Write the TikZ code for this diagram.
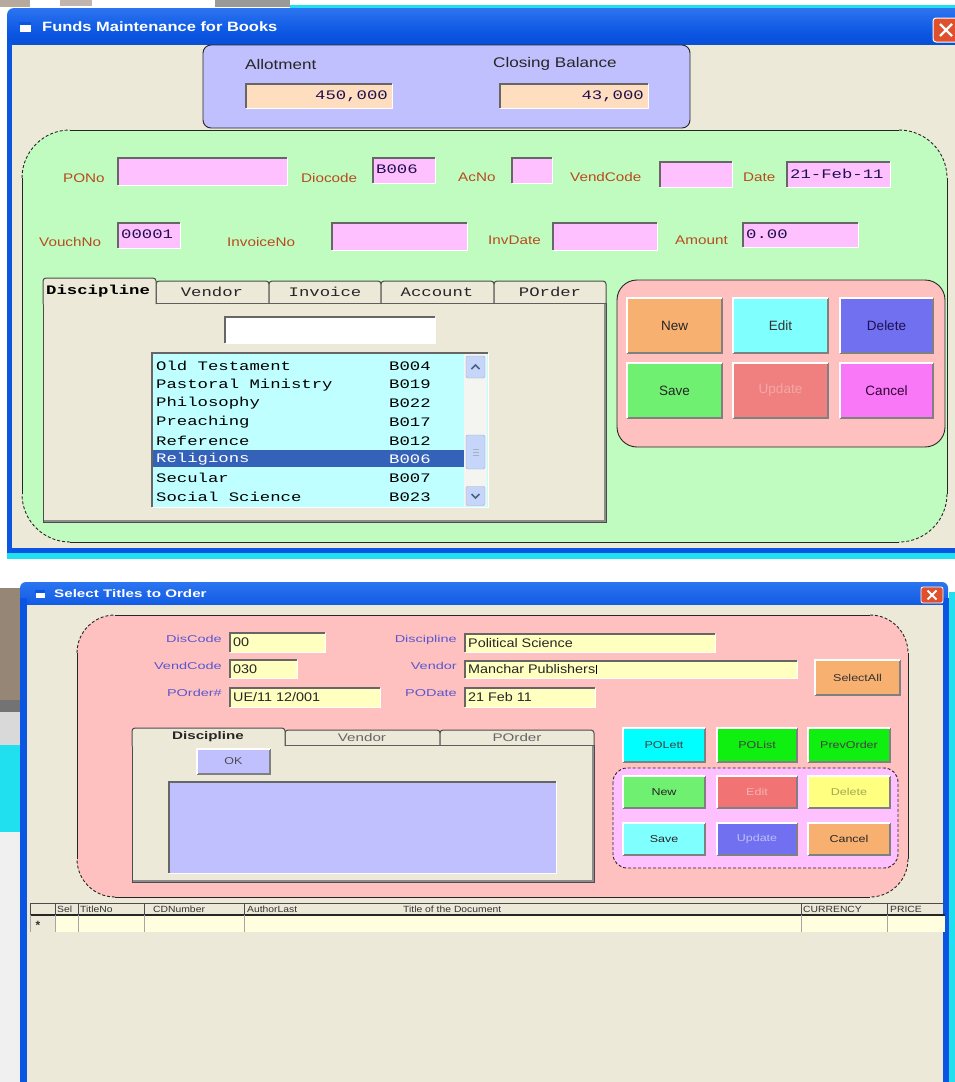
\documentclass[tikz,border=0pt]{standalone}
\usepackage{fontspec}
\setmainfont{Liberation Sans}
\newfontfamily\uisans{Liberation Sans}
\newfontfamily\uiw[FakeStretch=1.22]{Liberation Sans}
\newfontfamily\uiv[FakeStretch=1.15]{Liberation Sans}
\newfontfamily\uib[FakeStretch=1.25]{Liberation Sans}
\newfontfamily\uix[FakeStretch=1.45]{Liberation Sans}
\newfontfamily\uiq[FakeStretch=1.38]{Liberation Sans}
\newfontfamily\uimono[FakeStretch=1.33]{Liberation Mono}
\usetikzlibrary{calc}
\definecolor{winbg}{HTML}{ECE9D8}
\definecolor{tbtop}{HTML}{2C74F0}
\definecolor{tbmid}{HTML}{0A55E2}
\definecolor{tbbot}{HTML}{0848C8}
\definecolor{scrcyan}{HTML}{20E0F0}
\definecolor{lavpanel}{HTML}{C0C0FF}
\definecolor{peach}{HTML}{FFDEC0}
\definecolor{greenpanel}{HTML}{C0FCC0}
\definecolor{pinkfld}{HTML}{FFC0FF}
\definecolor{lblred}{HTML}{B84A20}
\definecolor{fldtxt}{HTML}{201050}
\definecolor{listcyan}{HTML}{C0FFFF}
\definecolor{selblue}{HTML}{3462B8}
\definecolor{pinkpanel}{HTML}{FFC0C0}
\definecolor{bOrange}{HTML}{F8B070}
\definecolor{bCyan}{HTML}{80FFFF}
\definecolor{bBlue}{HTML}{7070F0}
\definecolor{bGreen}{HTML}{70F070}
\definecolor{bRed}{HTML}{F08080}
\definecolor{bMag}{HTML}{F878F8}
\definecolor{yelfld}{HTML}{FFFFC0}
\definecolor{lblblue}{HTML}{5858D0}
\definecolor{pureCyan}{HTML}{00FFFF}
\definecolor{pureGreen}{HTML}{10F010}
\definecolor{magpanel}{HTML}{FFC0FF}
\definecolor{bYellow}{HTML}{FFFF80}
\definecolor{rowyel}{HTML}{FFFFE0}
\definecolor{closered}{HTML}{E0502C}
\definecolor{scrtrack}{HTML}{F4F4F0}
\definecolor{scrbtn}{HTML}{C6D6FA}
\definecolor{scrarrow}{HTML}{4D6185}
\definecolor{photo}{HTML}{968676}

\tikzset{
 fldbox/.style={anchor=north west, inner sep=0pt, outer sep=0pt},
 sunkdk/.style={draw=black!60, line width=1.3pt},
 sunklt/.style={draw=white, line width=1pt},
 raiselt/.style={draw=white, line width=1.6pt},
 raisedk/.style={draw=black!50, line width=1.6pt},
 lblA/.style={anchor=west, inner sep=0pt, text=lblred, font=\uiw\fontsize{12.5}{14}\selectfont},
 hdrA/.style={anchor=west, inner sep=0pt, text=black!85, font=\uiw\fontsize{14}{16}\selectfont},
 monoA/.style={inner sep=0pt, text=fldtxt, font=\uimono\fontsize{13}{15}\selectfont},
 listA/.style={anchor=west, inner sep=0pt, text=black, font=\uimono\fontsize{13}{15}\selectfont},
 tabA/.style={inner sep=0pt, text=black!85, font=\uimono\fontsize{13}{15}\selectfont},
 btnA/.style={inner sep=0pt, font=\uisans\fontsize{13.5}{15}\selectfont},
 lblB/.style={anchor=east, inner sep=0pt, text=lblblue, font=\uix\fontsize{10}{12}\selectfont},
 valB/.style={anchor=west, inner sep=0pt, text=black!85, font=\uiv\fontsize{12.5}{14}\selectfont},
 btnB/.style={inner sep=0pt, font=\uib\fontsize{10}{12}\selectfont},
 tabB/.style={inner sep=0pt, font=\uiq\fontsize{11}{12}\selectfont},
 hdrC/.style={anchor=west, inner sep=0pt, text=black!80, font=\uiv\fontsize{9}{10}\selectfont},
 pline/.style={draw=black!85, line width=0.9pt},
 pdash/.style={draw=black!85, line width=0.9pt, dash pattern=on 3pt off 2pt},
 tabline/.style={draw=black!70, line width=1pt},
 sbtn/.style={draw=scrbtn!80!black, fill=scrbtn, rounded corners=2pt, inner sep=0pt, minimum width=19pt},
}

\newcommand{\fld}[6]{%
 \node[fldbox, fill=#6, minimum width={#4-#2}, minimum height={#5-#3}] (#1) at (#2,#3) {};
 \draw[sunklt] (#1.south west) -- (#1.south east) -- (#1.north east);
 \draw[sunkdk] (#1.south west) -- (#1.north west) -- (#1.north east);}

\newcommand{\btn}[8]{%
 \node[fldbox, fill=#6, minimum width={#4-#2}, minimum height={#5-#3}] (#1) at (#2,#3) {};
 \draw[raisedk] (#1.south west) -- (#1.south east) -- (#1.north east);
 \draw[raiselt] (#1.south west) -- (#1.north west) -- (#1.north east);
 \node[#7] (#1t) at (#1.center) {#8};}

\newcommand{\cpanel}[7]{%
 \fill[#6, rounded corners=#5] (#1,#2) rectangle (#3,#4);
 \draw[pline] ({#1+#5},#2) -- ({#3-#5},#2);
 \draw[pline] ({#1+#5},#4) -- ({#3-#5},#4);
 \draw[pline] (#1,{#2+#5}) -- (#1,{#4-#5});
 \draw[pline] (#3,{#2+#5}) -- (#3,{#4-#5});
 \draw[#7, rounded corners=#5] (#1,{#2+#5}) -- (#1,#2) -- ({#1+#5},#2);
 \draw[#7, rounded corners=#5] ({#3-#5},#2) -- (#3,#2) -- (#3,{#2+#5});
 \draw[#7, rounded corners=#5] (#3,{#4-#5}) -- (#3,#4) -- ({#3-#5},#4);
 \draw[#7, rounded corners=#5] ({#1+#5},#4) -- (#1,#4) -- (#1,{#4-#5});}

\begin{document}
\begin{tikzpicture}[x=1pt,y=-1pt]
\useasboundingbox (0,0) rectangle (955,1082);
\clip (0,0) rectangle (955,1082);
\fill[white] (0,0) rectangle (955,1082);

% ---------- strip above first window ----------
\fill[photo!70] (0,0) rectangle (30,7);
\fill[photo!60] (60,0) rectangle (92,6);
\fill[black!40] (215,0) rectangle (290,7);
\fill[scrcyan] (290,5) rectangle (955,9);

% ---------- first window frame ----------
\shade[top color=tbtop, bottom color=tbbot, middle color=tbmid, rounded corners=7] (7,8) rectangle (985,60);
\fill[winbg] (12,45) rectangle (955,548);
\fill[tbmid] (7,40) rectangle (12,553);
\fill[tbmid] (7,548) rectangle (955,553);
\fill[scrcyan] (7,553) rectangle (955,559);
\node[fill=white, minimum width=11pt, minimum height=9pt, inner sep=0pt] (ic1) at (25,27) {};
\fill[tbmid] (ic1.north west) rectangle ([yshift=-3pt]ic1.north east);
\node[anchor=west, inner sep=0pt, text=white, font=\uiw\bfseries\fontsize{13.5}{15}\selectfont] (title1) at (42,27) {Funds Maintenance for Books};
\node[fldbox, fill=closered, draw=white, line width=1pt, rounded corners=3pt, minimum width=26pt, minimum height=24pt] (close1) at (933,18) {};
\draw[white, line width=2.4pt] ($(close1.center)+(-6,-6)$) -- ($(close1.center)+(6,6)$);
\draw[white, line width=2.4pt] ($(close1.center)+(-6,6)$) -- ($(close1.center)+(6,-6)$);

% ---------- green panel ----------
\cpanel{22}{130}{947}{542}{48}{greenpanel}{pdash}

% ---------- allotment panel ----------
\filldraw[fill=lavpanel, draw=black!85, line width=0.9pt, rounded corners=8] (203,45) rectangle (690,128);
\node[hdrA] (lAllot) at (245,64) {Allotment};
\node[hdrA] (lClose) at (493,64) {Closing Balance};
\fld{fAllot}{246}{84}{392}{108}{peach}
\node[monoA, anchor=east] (fAllott) at ([xshift=-4pt]fAllot.east) {450,000};
\fld{fClose}{500}{84}{648}{108}{peach}
\node[monoA, anchor=east] (fCloset) at ([xshift=-4pt]fClose.east) {43,000};

% ---------- rows of fields ----------
\node[lblA] (lPONo) at (63,178) {PONo};
\fld{fPONo}{118}{158}{287}{185}{pinkfld}
\node[lblA] (lDio) at (301,178) {Diocode};
\fld{fDio}{373}{158}{435}{183}{pinkfld}
\node[monoA, anchor=west] (fDiot) at ([xshift=3pt,yshift=1pt]fDio.west) {B006};
\node[lblA] (lAcNo) at (458,177) {AcNo};
\fld{fAcNo}{512}{158}{552}{183}{pinkfld}
\node[lblA] (lVend) at (570,177) {VendCode};
\fld{fVend}{660}{162}{732}{187}{pinkfld}
\node[lblA] (lDate) at (743,177) {Date};
\fld{fDate}{787}{162}{890}{187}{pinkfld}
\node[monoA, anchor=west] (fDatet) at ([xshift=3pt,yshift=1pt]fDate.west) {21-Feb-11};

\node[lblA] (lVouch) at (39,242) {VouchNo};
\fld{fVouch}{118}{223}{180}{248}{pinkfld}
\node[monoA, anchor=west] (fVoucht) at ([xshift=3pt,yshift=1pt]fVouch.west) {00001};
\node[lblA] (lInv) at (227,242) {InvoiceNo};
\fld{fInv}{332}{223}{467}{250}{pinkfld}
\node[lblA] (lInvD) at (488,240) {InvDate};
\fld{fInvD}{553}{223}{657}{250}{pinkfld}
\node[lblA] (lAmt) at (675,240) {Amount};
\fld{fAmt}{743}{223}{858}{247}{pinkfld}
\node[monoA, anchor=west] (fAmtt) at ([xshift=3pt,yshift=1pt]fAmt.west) {0.00};

% ---------- tab control 1 ----------
\filldraw[fill=winbg, tabline] (43,303) rectangle (606,522);
\draw[black!45, line width=1.2pt] (44,521) -- (605,521) -- (605,304);
\filldraw[fill=winbg, tabline, rounded corners=3] (156,303) -- (156,281) -- (269,281) -- (269,303);
\filldraw[fill=winbg, tabline, rounded corners=3] (269,303) -- (269,281) -- (381,281) -- (381,303);
\filldraw[fill=winbg, tabline, rounded corners=3] (381,303) -- (381,281) -- (494,281) -- (494,303);
\filldraw[fill=winbg, tabline, rounded corners=3] (494,303) -- (494,281) -- (606,281) -- (606,303);
\filldraw[fill=winbg, tabline, rounded corners=3] (43,304) -- (43,278) -- (156,278) -- (156,304);
\draw[winbg, line width=1.6pt] (44,303) -- (155,303);
\node[tabA, anchor=west, font=\uimono\bfseries\fontsize{13}{15}\selectfont, text=black] (tDisc) at (46,291) {Discipline};
\node[tabA] (tVend) at (212,292) {Vendor};
\node[tabA] (tInv) at (325,292) {Invoice};
\node[tabA] (tAcc) at (437,292) {Account};
\node[tabA] (tPOr) at (550,292) {POrder};

\fld{fSearch}{225}{317}{435}{343}{white}
\fld{fList}{152}{353}{488}{507}{listcyan}
\fill[scrtrack] (464,354) rectangle (487,506);
\fill[selblue] (153,450) rectangle (464,467);
\node[sbtn, minimum height=22pt] (sUp) at (475.5,367) {};
\draw[scrarrow, line width=1.6pt] ($(sUp.center)+(-4,2)$) -- ($(sUp.center)+(0,-2)$) -- ($(sUp.center)+(4,2)$);
\node[sbtn, minimum height=34pt] (sThumb) at (475.5,452) {};
\draw[scrarrow!50, line width=0.7pt] ($(sThumb.center)+(-3,-3)$) -- ($(sThumb.center)+(3,-3)$);
\draw[scrarrow!50, line width=0.7pt] ($(sThumb.center)+(-3,0)$) -- ($(sThumb.center)+(3,0)$);
\draw[scrarrow!50, line width=0.7pt] ($(sThumb.center)+(-3,3)$) -- ($(sThumb.center)+(3,3)$);
\node[sbtn, minimum height=19pt] (sDown) at (475.5,496) {};
\draw[scrarrow, line width=1.6pt] ($(sDown.center)+(-4,-2)$) -- ($(sDown.center)+(0,2)$) -- ($(sDown.center)+(4,-2)$);

\node[listA] (r1a) at (156,366) {Old Testament};      \node[listA] (r1b) at (389,366) {B004};
\node[listA] (r2a) at (156,384.7) {Pastoral Ministry}; \node[listA] (r2b) at (389,384.7) {B019};
\node[listA] (r3a) at (156,403.4) {Philosophy};        \node[listA] (r3b) at (389,403.4) {B022};
\node[listA] (r4a) at (156,422.1) {Preaching};         \node[listA] (r4b) at (389,422.1) {B017};
\node[listA] (r5a) at (156,440.8) {Reference};         \node[listA] (r5b) at (389,440.8) {B012};
\node[listA, text=white] (r6a) at (156,459) {Religions}; \node[listA, text=white] (r6b) at (389,459) {B006};
\node[listA] (r7a) at (156,478.2) {Secular};           \node[listA] (r7b) at (389,478.2) {B007};
\node[listA] (r8a) at (156,496.9) {Social Science};    \node[listA] (r8b) at (389,496.9) {B023};

% ---------- button panel 1 ----------
\filldraw[fill=pinkpanel, draw=black!85, line width=0.9pt, rounded corners=20] (617,280) rectangle (945,447);
\btn{bNew}{627}{298}{722}{353}{bOrange}{btnA, text=black!85}{New}
\btn{bEdit}{733}{298}{828}{353}{bCyan}{btnA, text=black!80}{Edit}
\btn{bDel}{840}{298}{933}{353}{bBlue}{btnA, text=fldtxt}{Delete}
\btn{bSave}{627}{363}{722}{418}{bGreen}{btnA, text=black!85}{Save}
\btn{bUpd}{733}{363}{828}{418}{bRed}{btnA, text=bRed!70!white}{Update}
\btn{bCan}{840}{363}{933}{418}{bMag}{btnA, text=black!60!violet}{Cancel}

% ---------- left strip beside second window ----------
\fill[photo] (0,588) rectangle (20,700);
\fill[black!55] (0,700) rectangle (20,712);
\fill[black!15] (0,712) rectangle (20,745);
\fill[scrcyan] (0,745) rectangle (20,832);
\fill[black!6] (0,832) rectangle (20,1082);

% ---------- second window frame ----------
\shade[top color=tbtop, bottom color=tbbot, middle color=tbmid, rounded corners=6] (20,582) rectangle (948,640);
\fill[winbg] (27,605) rectangle (943,1082);
\fill[tbmid] (20,598) rectangle (27,1082);
\fill[tbmid] (943,598) rectangle (949,1082);
\fill[scrcyan] (949,592) rectangle (955,1082);
\node[fill=white, minimum width=9pt, minimum height=7pt, inner sep=0pt] (ic2) at (40,594) {};
\fill[tbmid] (ic2.north west) rectangle ([yshift=-2.5pt]ic2.north east);
\node[anchor=west, inner sep=0pt, text=white, font=\uiq\bfseries\fontsize{11}{12}\selectfont] (title2) at (54,594) {Select Titles to Order};
\node[fldbox, fill=closered, draw=white, line width=0.8pt, rounded corners=2pt, minimum width=22pt, minimum height=16pt] (close2) at (921,587) {};
\draw[white, line width=2pt] ($(close2.center)+(-4.5,-4.5)$) -- ($(close2.center)+(4.5,4.5)$);
\draw[white, line width=2pt] ($(close2.center)+(-4.5,4.5)$) -- ($(close2.center)+(4.5,-4.5)$);

% ---------- pink panel ----------
\cpanel{77}{615}{908}{897}{38}{pinkpanel}{pdash}

\node[lblB] (lDisC) at (222,639) {DisCode};
\fld{gDisC}{230}{633}{325}{652}{yelfld}
\node[valB] (gDisCt) at ([xshift=3pt]gDisC.west) {00};
\node[lblB] (lVendC) at (222,666) {VendCode};
\fld{gVendC}{230}{660}{297}{678}{yelfld}
\node[valB] (gVendCt) at ([xshift=3pt]gVendC.west) {030};
\node[lblB] (lPOrd) at (222,693) {POrder\#};
\fld{gPOrd}{230}{688}{380}{707}{yelfld}
\node[valB] (gPOrdt) at ([xshift=3pt]gPOrd.west) {UE/11 12/001};
\node[lblB] (lDisc2) at (457,640) {Discipline};
\fld{gDisc}{465}{634}{715}{652}{yelfld}
\node[valB] (gDisct) at ([xshift=3pt]gDisc.west) {Political Science};
\node[lblB] (lVend2) at (457,666) {Vendor};
\fld{gVend}{465}{661}{797}{678}{yelfld}
\node[valB] (gVendt) at ([xshift=3pt]gVend.west) {Manchar Publishers};
\draw[black, line width=0.8pt] ([xshift=1pt]gVendt.north east) -- ([xshift=1pt]gVendt.south east);
\node[lblB] (lPOD) at (457,693) {PODate};
\fld{gPOD}{465}{688}{595}{707}{yelfld}
\node[valB] (gPODt) at ([xshift=3pt]gPOD.west) {21 Feb 11};
\btn{cSel}{815}{660}{900}{695}{bOrange}{btnB, text=black!80}{SelectAll}

% ---------- tab control 2 ----------
\filldraw[fill=winbg, tabline] (132,745) rectangle (594,882);
\draw[black!45, line width=1.2pt] (133,881) -- (593,881) -- (593,746);
\filldraw[fill=winbg, tabline, rounded corners=3] (285,745) -- (285,730) -- (440,730) -- (440,745);
\filldraw[fill=winbg, tabline, rounded corners=3] (440,745) -- (440,730) -- (594,730) -- (594,745);
\filldraw[fill=winbg, tabline, rounded corners=3] (132,746) -- (132,728) -- (285,728) -- (285,746);
\draw[winbg, line width=1.6pt] (133,745) -- (284,745);
\node[tabB, font=\uiq\bfseries\fontsize{11}{12}\selectfont, text=black!85] (uDisc) at (208,737) {Discipline};
\node[tabB, text=black!60] (uVend) at (362,738) {Vendor};
\node[tabB, text=black!60] (uPOr) at (517,738) {POrder};
\btn{cOK}{197}{749}{270}{774}{lavpanel}{btnB, text=black!70}{OK}
\fld{gBox}{169}{782}{556}{873}{lavpanel}

% ---------- right buttons 2 ----------
\btn{cPOL}{623}{728}{705}{762}{pureCyan}{btnB, text=black!75}{POLett}
\btn{cPLi}{717}{728}{797}{762}{pureGreen}{btnB, text=black!75}{POList}
\btn{cPrev}{808}{728}{890}{762}{pureGreen}{btnB, text=black!75}{PrevOrder}
\filldraw[fill=magpanel, pdash, rounded corners=14] (613,768) rectangle (898,868);
\btn{cNew}{623}{776}{705}{808}{bGreen}{btnB, text=black!85}{New}
\btn{cEdit}{717}{776}{797}{808}{bRed!90!red}{btnB, text=bRed!60!white}{Edit}
\btn{cDel}{808}{776}{890}{808}{bYellow}{btnB, text=black!35!bYellow}{Delete}
\btn{cSave}{623}{823}{705}{855}{bCyan}{btnB, text=black!85}{Save}
\btn{cUpd}{717}{823}{797}{855}{bBlue}{btnB, text=bBlue!45!white}{Update}
\btn{cCan}{808}{823}{890}{855}{bOrange}{btnB, text=black!85}{Cancel}

% ---------- grid ----------
\fill[rowyel] (55,915) rectangle (945,932);
\draw[black!70, line width=1pt] (30,903) -- (945,903);
\draw[black!85, line width=1.5pt] (30,915) -- (945,915);
\foreach \gx/\gn in {30/ga,55/gb,78/gc,144/gd,244/ge,801/gf,887/gg} {
  \draw[black!70, line width=0.8pt] (\gx,903) -- (\gx,915);
  \draw[black!35, line width=0.8pt] (\gx,915) -- (\gx,932);
}
\node[hdrC] (hSel) at (57,909) {Sel};
\node[hdrC] (hTit) at (80,909) {TitleNo};
\node[hdrC] (hCD) at (153,909) {CDNumber};
\node[hdrC] (hAut) at (247,909) {AuthorLast};
\node[hdrC] (hDoc) at (403,909) {Title of the Document};
\node[hdrC] (hCur) at (803,909) {CURRENCY};
\node[hdrC] (hPri) at (890,909) {PRICE};
\node[inner sep=0pt, font=\uisans\bfseries\fontsize{12}{12}\selectfont, text=black!80] (hStar) at (38,925) {*};
\end{tikzpicture}
\end{document}
